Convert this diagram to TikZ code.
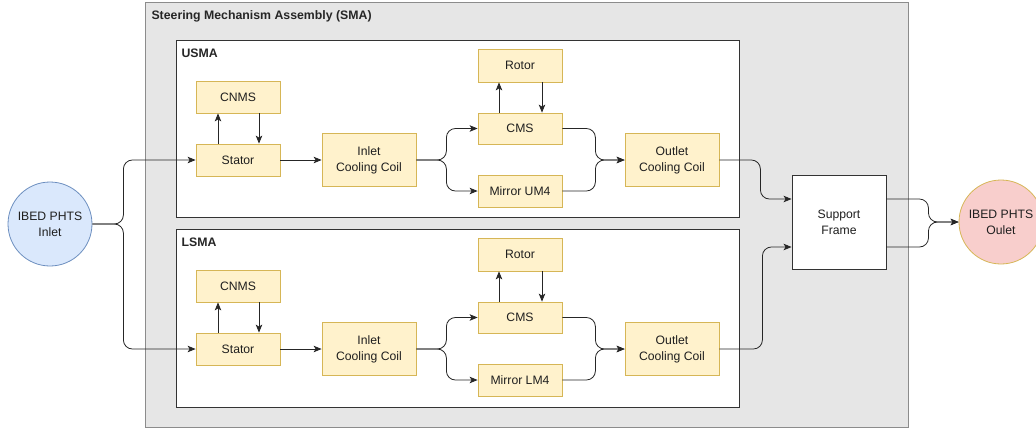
\documentclass[tikz,border=0pt]{standalone}
\usepackage{fontspec}
\setmainfont{Liberation Sans}
\usetikzlibrary{arrows.meta}
\definecolor{yfill}{HTML}{FFF2CC}
\definecolor{ydraw}{HTML}{D6B656}
\definecolor{bfill}{HTML}{DAE8FC}
\definecolor{bdraw}{HTML}{6C8EBF}
\definecolor{rfill}{HTML}{F8CECC}
\definecolor{gfill}{HTML}{E6E6E6}
\definecolor{gdraw}{HTML}{8C8C8C}
\definecolor{dark}{HTML}{333333}
\begin{document}
\begin{tikzpicture}[x=1pt,y=-1pt,
  every node/.style={font=\fontsize{12.2}{16}\selectfont, text=black!88},
  ybox/.style={draw=ydraw, fill=yfill, line width=0.8pt, minimum width=84pt, minimum height=32pt, inner sep=0pt, align=center},
  coilbox/.style={ybox, minimum width=94pt, minimum height=53pt},
  framebox/.style={draw=dark, fill=white, line width=0.9pt, minimum width=94pt, minimum height=94pt, align=center},
  term/.style={circle, minimum size=84pt, inner sep=0pt, line width=0.8pt, align=center},
  title/.style={anchor=west, font=\fontsize{12.3}{15}\selectfont\bfseries, text=black!85},
  conn/.style={draw=black!85, line width=0.8pt, rounded corners=9pt, -{Stealth[length=8pt,width=6.5pt,inset=2pt]}}
]
\useasboundingbox (0,0) rectangle (1036,429);
% containers
\draw[fill=gfill, draw=gdraw, line width=0.9pt] (145,2) rectangle (908,427);
\draw[fill=white, draw=dark, line width=0.9pt] (176,40) rectangle (739,217);
\draw[fill=white, draw=dark, line width=0.9pt] (176,229) rectangle (739,407);
\node[title] (tSMA) at (148,16) {Steering Mechanism Assembly (SMA)};
\node[title] (tU) at (178,53) {USMA};
\node[title] (tL) at (178,242) {LSMA};
% terminals
\node[term, draw=bdraw, fill=bfill] (in) at (50,224) {IBED PHTS\\Inlet};
\node[term, draw=ydraw, fill=rfill] (out) at (1001,222) {IBED PHTS\\Oulet};
\node[framebox] (sf) at (839,222) {Support\\Frame};
% upper
\node[ybox] (cnU) at (238,97) {CNMS};
\node[ybox] (stU) at (238,160) {Stator};
\node[coilbox] (icU) at (369,160) {Inlet\\Cooling Coil};
\node[ybox, minimum height=33pt] (roU) at (520,65.5) {Rotor};
\node[ybox, minimum height=31pt] (cmU) at (520,128.5) {CMS};
\node[ybox] (miU) at (520,191) {Mirror UM4};
\node[coilbox] (ocU) at (672,160) {Outlet\\Cooling Coil};
% lower
\node[ybox] (cnL) at (238,286) {CNMS};
\node[ybox] (stL) at (238,349) {Stator};
\node[coilbox] (icL) at (369,349) {Inlet\\Cooling Coil};
\node[ybox, minimum height=33pt] (roL) at (520,254.5) {Rotor};
\node[ybox, minimum height=31pt] (cmL) at (520,317.5) {CMS};
\node[ybox] (miL) at (520,380) {Mirror LM4};
\node[coilbox] (ocL) at (672,349) {Outlet\\Cooling Coil};
% connectors: inlet fork
\draw[conn] (in.east) -- ++(31,0) |- (stU.west);
\draw[conn] (in.east) -- ++(31,0) |- (stL.west);
% upper chain
\draw[conn] ([xshift=-20pt]stU.north) -- ([xshift=-20pt]cnU.south);
\draw[conn] ([xshift=21pt]cnU.south) -- ([xshift=21pt]stU.north);
\draw[conn] (stU.east) -- (icU.west);
\draw[conn] (icU.east) -- ++(30,0) |- (cmU.west);
\draw[conn] (icU.east) -- ++(30,0) |- (miU.west);
\draw[conn] ([xshift=-21pt]cmU.north) -- ([xshift=-21pt]roU.south);
\draw[conn] ([xshift=22pt]roU.south) -- ([xshift=22pt]cmU.north);
\draw[conn] (cmU.east) -- ++(33,0) |- (ocU.west);
\draw[conn] (miU.east) -- ++(33,0) |- (ocU.west);
% lower chain
\draw[conn] ([xshift=-20pt]stL.north) -- ([xshift=-20pt]cnL.south);
\draw[conn] ([xshift=21pt]cnL.south) -- ([xshift=21pt]stL.north);
\draw[conn] (stL.east) -- (icL.west);
\draw[conn] (icL.east) -- ++(30,0) |- (cmL.west);
\draw[conn] (icL.east) -- ++(30,0) |- (miL.west);
\draw[conn] ([xshift=-21pt]cmL.north) -- ([xshift=-21pt]roL.south);
\draw[conn] ([xshift=22pt]roL.south) -- ([xshift=22pt]cmL.north);
\draw[conn] (cmL.east) -- ++(33,0) |- (ocL.west);
\draw[conn] (miL.east) -- ++(33,0) |- (ocL.west);
% to support frame
\draw[conn] (ocU.east) -- ++(41,0) |- ([yshift=23pt]sf.west);
\draw[conn] (ocL.east) -- ++(43,0) |- ([yshift=-25pt]sf.west);
% to outlet
\draw[conn] ([yshift=23pt]sf.east) -- ++(42,0) |- (out.west);
\draw[conn] ([yshift=-25pt]sf.east) -- ++(42,0) |- (out.west);
\end{tikzpicture}
\end{document}
